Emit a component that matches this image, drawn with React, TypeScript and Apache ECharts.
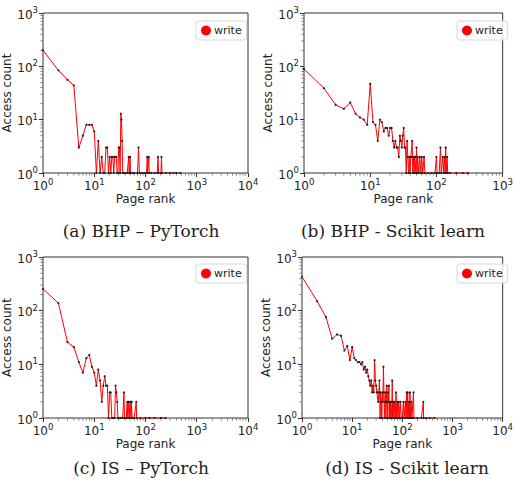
import React, { useEffect, useRef } from "react";
import * as echarts from "echarts";

// Panel (a) BHP – PyTorch
const ranksA = [1, 2, 3, 4, 5, 6, 7, 8, 9, 10, 11, 12, 13, 14, 15, 16, 17, 18, 19, 20, 21, 22, 23, 24, 25, 26, 27, 28, 29, 30, 31, 32, 33, 34, 35, 36, 37,
  40, 44, 47, 48, 50, 51, 55, 60, 70, 73, 76, 85, 95, 105, 108, 110, 116, 118, 130, 150, 170, 175, 180, 200, 205, 210, 250, 300, 350, 400, 480];
const countsA = [200, 84, 56, 44, 3, 5, 8, 8, 8, 6, 1, 4, 1, 2, 1, 1, 3, 3, 1, 2, 1, 2, 2, 1, 2, 2, 2, 1, 1, 3, 3, 1, 13, 10, 4, 1, 1,
  1, 1, 2, 1, 2, 1, 1, 1, 1, 3, 1, 1, 1, 1, 2, 1, 2, 1, 1, 1, 1, 2, 1, 1, 2, 1, 1, 1, 1, 1, 1];

// Panel (b) BHP - Scikit learn
const ranksB = [1, 2, 3, 4, 5, 6, 7, 8, 9, 10, 11, 12, 13, 14, 15, 16, 17, 18, 19, 20, 21, 22, 23, 24, 25, 26, 27, 28, 29, 30, 31, 32, 33, 34,
  35, 36, 37, 38, 39, 40, 41, 42, 43, 44, 45, 46, 47, 48, 49, 50, 51, 52, 54, 56, 58, 60, 62, 65, 67, 75, 85, 95, 100, 102, 110, 115, 118, 125, 128, 133, 135, 138, 141, 145, 148, 160, 200, 250, 300];
const countsB = [89, 39, 19, 16, 21, 13, 11, 10, 8, 47, 9, 8, 4, 10, 9, 6, 7, 7, 5, 7, 7, 4, 3, 4, 3, 3, 2, 5, 4, 3, 5, 7, 3, 3,
  1, 4, 2, 1, 2, 1, 2, 2, 4, 1, 2, 1, 2, 2, 1, 3, 1, 2, 1, 2, 1, 2, 1, 2, 1, 1, 1, 1, 2, 1, 1, 3, 1, 2, 1, 2, 1, 3, 1, 2, 1, 1, 1, 1, 1];

// Panel (c) IS – PyTorch
const ranksC = [1, 2, 3, 4, 5, 6, 7, 8, 9, 10, 11, 12, 13, 14, 15, 16, 17, 18, 19, 20, 21, 22, 23, 24, 25, 26, 27, 28, 29, 30,
  33, 36, 38, 39, 42, 44, 45, 46, 47, 48, 50, 51, 52, 53, 54, 55, 60, 66, 67, 80, 100, 120, 150, 200, 245];
const countsC = [255, 138, 26, 21, 11, 7, 13, 15, 9, 7, 4, 8, 5, 2, 4, 6, 4, 4, 1, 3, 3, 1, 1, 1, 1, 4, 3, 2, 1, 1,
  1, 1, 3, 1, 1, 2, 1, 2, 2, 1, 2, 2, 1, 2, 2, 1, 1, 2, 1, 1, 1, 1, 1, 1, 1];

// Panel (d) IS - Scikit learn
const ranksD = [1, 2, 3, 4, 5, 6, 7, 8, 9, 10, 11, 12, 13, 14, 15, 16, 17, 18, 19, 20, 21, 22, 23, 24, 25, 26, 27, 28, 29, 30,
  31, 32, 33, 34, 35, 36, 37, 38, 39, 40, 41, 42, 43, 44, 45, 46, 47, 48, 49, 50, 51, 52, 53, 54, 55, 56, 57, 58,
  60, 62, 63, 64, 66, 68, 70, 72, 75, 77, 80, 82, 85, 88, 92, 95, 100, 105, 108, 115, 118, 122, 124, 128, 130, 135, 138, 142, 145, 150, 155, 160, 167, 170, 200, 240, 262, 265, 300, 350, 440];
const countsD = [430, 150, 76, 30, 36, 34, 18, 22, 12, 21, 13, 12, 11, 11, 10, 11, 8, 9, 7, 8, 6, 5, 4, 5, 3, 4, 3, 12, 5, 4,
  3, 3, 2, 3, 5, 1, 3, 2, 1, 3, 2, 9, 3, 1, 2, 3, 1, 2, 4, 2, 1, 3, 2, 4, 1, 2, 1, 2,
  1, 2, 5, 1, 2, 1, 2, 1, 3, 1, 2, 1, 2, 1, 2, 1, 1, 2, 1, 2, 1, 3, 1, 3, 1, 2, 1, 3, 1, 2, 1, 1, 3, 1, 1, 1, 2, 1, 1, 1, 1];

const captions = ["(a) BHP – PyTorch", "(b) BHP - Scikit learn", "(c) IS – PyTorch", "(d) IS - Scikit learn"];
const xMaxes = [10000, 1000, 10000, 10000];
const seriesName = "write";
const xName = "Page rank";
const yName = "Access count";

const panels = [
  { ranks: ranksA, counts: countsA, grid: { left: 43, top: 13, width: 205, height: 160 }, legend: { left: 196, top: 21 }, cap: [141, 231], nameGap: 18 },
  { ranks: ranksB, counts: countsB, grid: { left: 304, top: 13, width: 204, height: 160 }, legend: { left: 457, top: 21 }, cap: [393, 231], nameGap: 18 },
  { ranks: ranksC, counts: countsC, grid: { left: 43, top: 257, width: 205, height: 161 }, legend: { left: 196, top: 264 }, cap: [141, 468], nameGap: 17 },
  { ranks: ranksD, counts: countsD, grid: { left: 302, top: 257, width: 205, height: 161 }, legend: { left: 457, top: 264 }, cap: [407, 468], nameGap: 17 },
];

const FONT = "DejaVu Sans";
const INK = "#222";

const supFmt = (v: number) => `{b|10}{s|${Math.round(Math.log10(v))}}`;
const rich = {
  b: { fontSize: 12, fontFamily: FONT, color: INK, lineHeight: 15, verticalAlign: "bottom" },
  s: { fontSize: 8.5, fontFamily: FONT, color: INK, lineHeight: 9, verticalAlign: "top" },
};

function minorVals(maxV: number) {
  const out: number[] = [];
  for (let d = 1; d < maxV; d *= 10) for (let k = 2; k <= 9; k++) out.push(d * k);
  return out;
}

export default function App() {
  const ref = useRef<HTMLDivElement>(null);
  useEffect(() => {
    document.body.style.margin = "0";
    const chart = echarts.init(ref.current!, null, { renderer: "svg" });
    const grid: any[] = [];
    const xAxis: any[] = [];
    const yAxis: any[] = [];
    const series: any[] = [];
    const legend: any[] = [];
    const graphic: any[] = [];
    panels.forEach((p, i) => {
      grid.push({ ...p.grid, show: true, borderColor: "#333", borderWidth: 1, backgroundColor: "#fff" });
      xAxis.push({
        type: "log", logBase: 10, gridIndex: i, min: 1, max: xMaxes[i],
        name: xName, nameLocation: "middle", nameGap: p.nameGap,
        nameTextStyle: { fontSize: 12, fontFamily: FONT, color: INK },
        axisLine: { show: false },
        axisTick: { show: true, inside: false, length: 4, lineStyle: { color: "#333" } },
        axisLabel: { formatter: supFmt, rich, margin: 4, showMinLabel: true, showMaxLabel: true, hideOverlap: false },
        splitLine: { show: false },
      });
      yAxis.push({
        type: "log", logBase: 10, gridIndex: i, min: 1, max: 1000,
        name: yName, nameLocation: "middle", nameGap: 24,
        nameTextStyle: { fontSize: 12, fontFamily: FONT, color: INK },
        axisLine: { show: false },
        axisTick: { show: true, inside: false, length: 4, lineStyle: { color: "#333" } },
        axisLabel: { formatter: supFmt, rich, margin: 5, showMinLabel: true, showMaxLabel: true },
        splitLine: { show: false },
      });
      series.push({
        name: seriesName, type: "line", xAxisIndex: i, yAxisIndex: i,
        data: p.ranks.map((r, k) => [r, p.counts[k]]),
        symbol: "circle", symbolSize: 2.2, showSymbol: true,
        itemStyle: { color: "#222" },
        lineStyle: { color: "#ff0000", width: 1 },
        clip: false, z: 3,
      });
      series.push({
        name: "minorY", type: "scatter", xAxisIndex: i, yAxisIndex: i, silent: true, clip: false,
        data: minorVals(1000).map((v) => [1, v]),
        symbol: "rect", symbolSize: [2, 0.8], symbolOffset: [-1.5, 0], itemStyle: { color: "#333" }, z: 1,
      });
      series.push({
        name: "minorX", type: "scatter", xAxisIndex: i, yAxisIndex: i, silent: true, clip: false,
        data: minorVals(xMaxes[i]).map((v) => [v, 1]),
        symbol: "rect", symbolSize: [0.8, 2], symbolOffset: [0, 1.5], itemStyle: { color: "#333" }, z: 1,
      });
      legend.push({
        left: p.legend.left, top: p.legend.top, orient: "vertical",
        data: [{ name: seriesName, icon: "circle", itemStyle: { color: "#ff0000" } }],
        itemWidth: 10, itemHeight: 10, itemGap: 2,
        padding: [4, 5, 4, 5],
        backgroundColor: "rgba(255,255,255,0.8)", borderColor: "#d8d8d8", borderWidth: 1, borderRadius: 3,
        textStyle: { fontSize: 11, fontFamily: FONT, color: INK, padding: [0, 0, 0, -2] },
        selectedMode: false,
      });
      graphic.push({
        type: "text", x: p.cap[0], y: p.cap[1],
        style: { text: captions[i], fontSize: 17, fontFamily: "DejaVu Serif", fill: "#222", textAlign: "center", textVerticalAlign: "middle" },
      });
    });
    chart.setOption({ animation: false, grid, xAxis, yAxis, series, legend, graphic });
    return () => chart.dispose();
  }, []);
  return <div ref={ref} style={{ width: 516, height: 489 }} />;
}
